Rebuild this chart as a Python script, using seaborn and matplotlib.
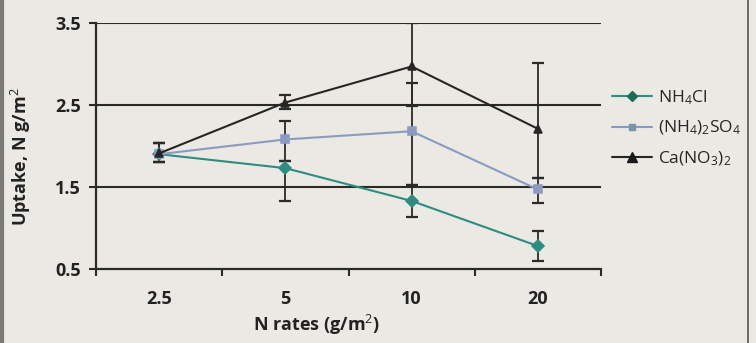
import matplotlib
matplotlib.use("Agg")
import matplotlib.pyplot as plt
import seaborn as sns
import pandas as pd
import numpy as np
from matplotlib.lines import Line2D
from matplotlib.ticker import FixedLocator

# ---- data ----
rates = ["2.5", "5", "10", "20"]
series = ["NH$_4$Cl", "(NH$_4$)$_2$SO$_4$", "Ca(NO$_3$)$_2$"]
nh4cl = [1.90, 1.73, 1.33, 0.78]
nh4cl_lo = [1.80, 1.33, 1.14, 0.60]
nh4cl_hi = [2.04, 1.82, 1.53, 0.96]
so4 = [1.90, 2.08, 2.18, 1.47]
so4_lo = [1.80, 1.82, 1.53, 1.31]
so4_hi = [2.04, 2.31, 2.77, 1.61]
cano3 = [1.91, 2.53, 2.97, 2.21]
cano3_lo = [1.80, 2.45, 2.49, 1.61]
cano3_hi = [2.04, 2.62, 3.50, 3.01]
yticks = [0.5, 1.5, 2.5, 3.5]

bg = "#ebe9e3"
sns.set_theme(style="white")
FONT = "Open Sans"
plt.rcParams["font.family"] = [FONT, "DejaVu Sans"]
plt.rcParams["mathtext.fontset"] = "custom"
plt.rcParams["mathtext.rm"] = FONT
plt.rcParams["mathtext.it"] = FONT
plt.rcParams["mathtext.bf"] = FONT + ":bold"

vals = [nh4cl, so4, cano3]
los = [nh4cl_lo, so4_lo, cano3_lo]
his = [nh4cl_hi, so4_hi, cano3_hi]
rows = []
for s, v in zip(series, vals):
    for r, y in zip(rates, v):
        rows.append({"rate": r, "uptake": y, "source": s})
df = pd.DataFrame(rows)

fig = plt.figure(figsize=(7.56, 3.43), dpi=100, facecolor=bg)
ax = fig.add_axes([96/756, 1-269/343, (601-96)/756, (269-23)/343])
ax.set_facecolor(bg)

line_cols = ["#2f8c80", "#8d9ac0", "#262626"]
marker_cols = ["#1e6b58", "#7d93a6", "#1a1a1a"]

# gridlines
for yv in yticks[1:]:
    ax.axhline(yv, color="#2b2b25", lw=1.5, zorder=1)

# error bars
for i in range(3):
    v = np.array(vals[i]); lo = np.array(los[i]); hi = np.array(his[i])
    ax.errorbar(np.arange(len(rates)), v, yerr=[v - lo, hi - v], fmt="none",
                ecolor="#2a2a2a", elinewidth=1.3, capsize=4.5, capthick=1.6, zorder=2)

sns.pointplot(data=df, x="rate", y="uptake", hue="source", order=rates,
              hue_order=series, palette=line_cols, markers=["D", "s", "^"],
              linestyles=["-", "-", "-"], errorbar=None, ax=ax,
              linewidth=1.5, markersize=6, zorder=3, legend=False)

ax.set_xlim(-0.5, 3.5)
ax.set_ylim(0.5, 3.5)
ax.set_yticks(yticks)
ax.set_yticklabels(["0.5", "1.5", "2.5", "3.5"])
ax.xaxis.set_minor_locator(FixedLocator([-0.5, 0.5, 1.5, 2.5, 3.5]))
ax.tick_params(axis="x", which="major", length=0, pad=15, labelsize=13, colors="#222")
ax.tick_params(axis="x", which="minor", length=5, width=1.5, color="#2b2b25", direction="out", bottom=True)
ax.tick_params(axis="y", length=5, width=1.5, color="#2b2b25", direction="out", left=True,
               pad=6, labelsize=13, labelcolor="#222")
for lab in ax.get_xticklabels() + ax.get_yticklabels():
    lab.set_fontweight("bold")

for sp in ["top", "right"]:
    ax.spines[sp].set_visible(False)
for sp in ["left", "bottom"]:
    ax.spines[sp].set_color("#2b2b25")
    ax.spines[sp].set_linewidth(1.6)

ax.set_xlabel("")
ax.set_ylabel("Uptake, N g/m$^2$", fontsize=13, fontweight="bold", color="#222")
ax.yaxis.set_label_coords(-0.125, 0.455)
fig.text(317/756, 1-325/343, "N rates (g/m$^2$)", ha="center", va="center",
         fontsize=13, fontweight="bold", color="#222")

handles = [Line2D([], [], color=line_cols[i], marker=m, markersize=ms,
                  markerfacecolor=marker_cols[i], markeredgecolor=marker_cols[i], lw=1.5)
           for i, (m, ms) in enumerate(zip(["D", "s", "^"], [5.5, 5, 7]))]
ax.legend(handles, series, loc="center left", bbox_to_anchor=(600/756, 1-128/343),
          bbox_transform=fig.transFigure, frameon=False, fontsize=12.5,
          handlelength=2.3, handletextpad=0.35, labelspacing=0.7, borderpad=0.2)

fig.add_artist(Line2D([0.002, 0.002], [0, 1], transform=fig.transFigure, color="#7a7a78", lw=3))
fig.add_artist(Line2D([748/756, 748/756], [0, 1], transform=fig.transFigure, color="#555", lw=1.2))

fig.savefig("out.png", dpi=100, facecolor=bg)
